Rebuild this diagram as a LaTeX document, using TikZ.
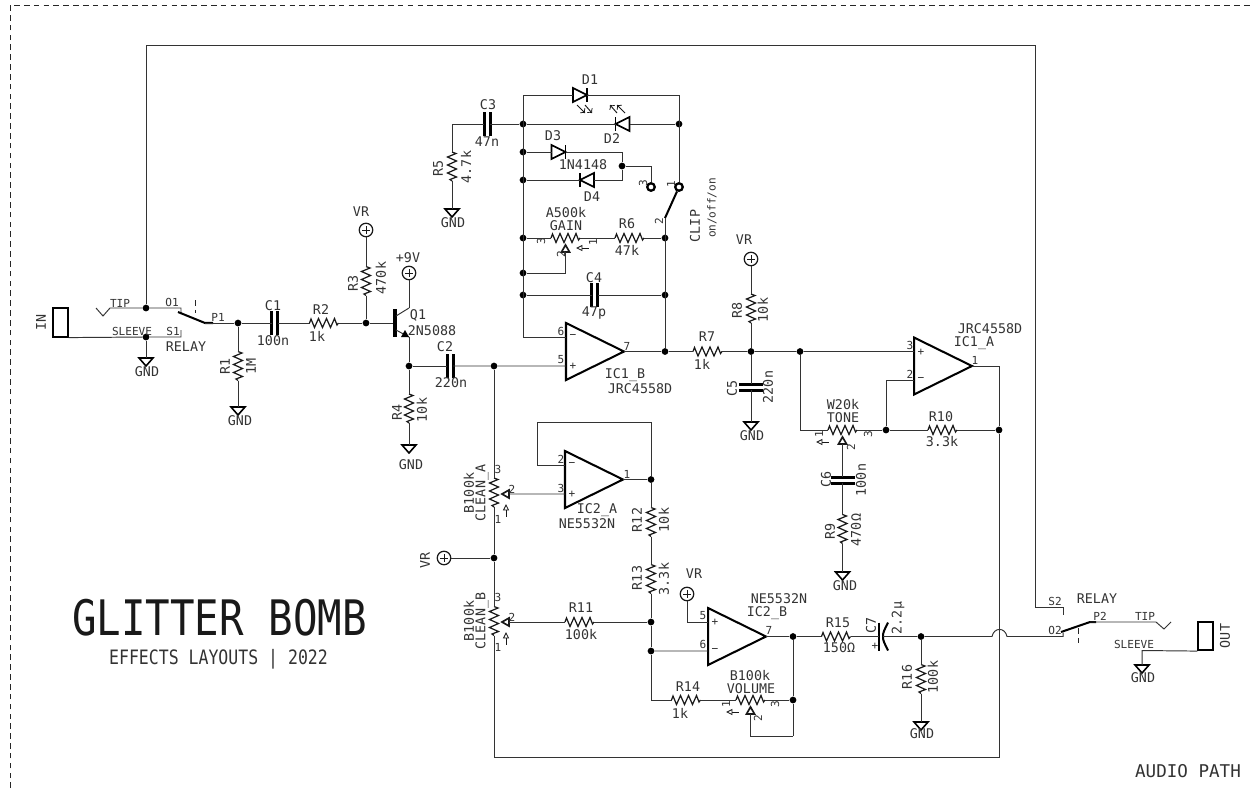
\documentclass[tikz,border=0pt]{standalone}
\usepackage{fontspec}
\setmainfont{DejaVu Sans Mono}
\usepackage{tikz}
\tikzset{
	wire/.style={line width=0.55pt, draw=black!80},
	part/.style={line width=0.7pt, draw=black!90, line join=miter},
	heavy/.style={line width=1.15pt, draw=black},
	plate/.style={line width=1.7pt, draw=black},
	dash1/.style={line width=0.5pt, draw=black!85, dash pattern=on 3.2pt off 2.4pt},
	dot/.style={circle, fill=black, inner sep=0pt, minimum size=0.135cm},
	vcc/.style={circle, draw=black!90, line width=0.7pt, inner sep=0pt, minimum size=0.27cm,
		path picture={\draw[line width=0.5pt] (path picture bounding box.center) ++(-4,0) -- ++(8,0) ++(-4,-4) -- ++(0,8);}},
	term/.style={circle, draw=black, line width=1.3pt, inner sep=0pt, minimum size=0.15cm},
	jack/.style={rectangle, draw=black, line width=0.95pt, inner sep=0pt, minimum width=0.29cm, minimum height=0.57cm},
	lab/.style={inner sep=0pt, text=black!80, font=\fontsize{7.6}{8}\selectfont},
	pin/.style={inner sep=0pt, text=black!80, font=\fontsize{6.3}{7}\selectfont},
	resh/.pic={
		\coordinate (-a) at (-14.5,0);
		\coordinate (-b) at (14.5,0);
		\draw[part] (-a) -- (-13,-4) -- (-9.5,4.5) -- (-5.5,-4.5) -- (-1.5,4.5) -- (2.5,-4.5) -- (6.5,4.5) -- (10.5,-4.5) -- (13,2) -- (-b);
	},
	cap/.pic={
		\coordinate (-a) at (-3,0);
		\coordinate (-b) at (3,0);
		\draw[plate] (-3,-12) -- (-3,12);
		\draw[plate] (3,-12) -- (3,12);
	},
	pcap/.pic={
		\coordinate (-a) at (-2,0);
		\coordinate (-b) at (2,0);
		\draw[heavy] (-2,-14) -- (-2,14);
		\draw[heavy] (7,-14) .. controls (3.5,-7) and (1.5,-3) .. (2,0) .. controls (1.5,3) and (3.5,7) .. (7,14);
	},
	diode/.pic={
		\coordinate (-a) at (-7,0);
		\coordinate (-b) at (7,0);
		\draw[heavy, line width=0.95pt] (-7,-7) -- (-7,7) -- (7,0) -- cycle;
		\draw[heavy, line width=0.95pt] (7,-7) -- (7,7);
	},
	rays/.pic={
		\draw[part, line width=0.55pt, ->] (-7,-4) -- (1,4);
		\draw[part, line width=0.55pt, ->] (1,-4) -- (8,4);
	},
	gnd/.pic={
		\coordinate (-a) at (0,0);
		\draw[heavy, line width=0.9pt] (-7,0) -- (7,0) -- (0,8) -- cycle;
	},
	wiper/.pic={
		\coordinate (-t) at (0,7);
		\draw[part, line width=0.95pt] (0,0) -- (4,7) -- (-4,7) -- cycle;
	},
	dirn/.pic={
		\draw[part, line width=0.5pt] (0,-6) -- (2.5,-1) -- (-2.5,-1) -- cycle;
		\draw[part, line width=0.5pt] (0,-1) -- (0,6);
	},
	npn/.pic={
		\coordinate (-b) at (0,0);
		\coordinate (-c) at (16,-15);
		\coordinate (-e) at (16,14);
		\draw[plate, line width=2.2pt] (2,-14) -- (2,14);
		\draw[wire] (3,-7) -- (-c);
		\draw[wire] (3,7) -- (-e);
		\fill[black] (16,14) -- (8,14) -- (12,7) -- cycle;
	},
	opamp/.pic={
		\coordinate (-up) at (0,-14.5);
		\coordinate (-dn) at (0,14.5);
		\coordinate (-o) at (58,0);
		\draw[heavy] (0,-28.5) -- (0,28.5) -- (-o) -- cycle;
	}
}
\begin{document}
\begin{tikzpicture}[x=0.02cm, y=-0.02cm]
		\useasboundingbox (0,0) rectangle (1253,788);
		\coordinate (tl) at (10,5);
		\coordinate (tr) at (1253,5);
		\coordinate (bl) at (10,788);
		\draw[dash1] (bl) -- (tl) -- (tr);

		\node at (60.5,322.5) [jack] (jackin) {};
		\coordinate (tip1a) at (96,308);
		\coordinate (tip1b) at (110,308);
		\coordinate (o1) at (181,308);
		\coordinate (s1) at (181,337);
		\coordinate (arm1) at (178,312);
		\coordinate (p1) at (205,323);
		\coordinate (d1a) at (195,300);
		\coordinate (d1b) at (195,313);
		\coordinate (topr) at (1035,45);
		\coordinate (s2) at (1063,607);
		\node at (146,308) [dot] (jtip) {};
		\node at (146,337) [dot] (jslv) {};
		\node at (238,323) [dot] (jp1) {};
		\node at (366,323) [dot] (jb) {};
		\node at (409,366) [dot] (je) {};
		\node at (494,366) [dot] (jin) {};
		\pic (g1) at (146,358) {gnd};
		\pic (C1) at (274.5,323) {cap};
		\pic (R2) at (324,323) {resh};
		\pic[rotate=-90] (R1) at (238,366) {resh};
		\pic (g2) at (238,407) {gnd};
		\node at (366,230) [vcc] (vr1) {};
		\pic[rotate=-90] (R3) at (366,281) {resh};
		\pic (Q1) at (393,323) {npn};
		\node at (409,273) [vcc] (vr2) {};
		\pic[rotate=-90] (R4) at (409,408.5) {resh};
		\pic (g3) at (409,445) {gnd};
		\pic (C2) at (450,366) {cap};
		\draw[wire] (jackin.south east) -- (jslv) -- (s1) -- ++(0,-7);
		\draw[wire] (tip1a) -- ++(7,8) -- (tip1b) -- (jtip) -- (o1) -- ++(0,6);
		\draw[wire] (jslv) -- (g1-a);
		\draw[wire] (jtip) |- (topr) |- (s2) -- ++(0,8);
		\draw[heavy] (arm1) -- (p1) -- ++(8,0);
		\draw[dash1] (d1a) -- (d1b);
		\draw[wire] (p1) -- (jp1) -- (C1-a);
		\draw[wire] (C1-b) -- (R2-a);
		\draw[wire] (R2-b) -- (jb) -- (Q1-b);
		\draw[wire] (jp1) -- (R1-a);
		\draw[wire] (R1-b) -- (g2-a);
		\draw[wire] (vr1) -- (R3-a);
		\draw[wire] (R3-b) -- (jb);
		\draw[wire] (vr2) -- (Q1-c);
		\draw[wire] (Q1-e) -- (je) -- (R4-a);
		\draw[wire] (R4-b) -- (g3-a);
		\draw[wire] (je) -- (C2-a);

		\pic (U1) at (566,351.5) {opamp};
		\coordinate (cd1) at (523,95);
		\node at (523,124) [dot] (jd2l) {};
		\node at (679,124) [dot] (jd2r) {};
		\node at (523,152) [dot] (jd3) {};
		\node at (523,180) [dot] (jd4) {};
		\node at (622,166) [dot] (jd34) {};
		\node at (523,238) [dot] (jgl) {};
		\node at (665,238) [dot] (jgr) {};
		\node at (523,273) [dot] (jgw) {};
		\node at (523,295) [dot] (jc4l) {};
		\node at (665,295) [dot] (jc4r) {};
		\node at (665,351.5) [dot] (jo1) {};
		\pic (D1) at (580,95) {diode};
		\pic (raysa) at (584,109) {rays};
		\pic[rotate=180] (D2) at (622.5,124) {diode};
		\pic[rotate=180] (raysb) at (618,109) {rays};
		\pic (C3) at (487,124) {cap};
		\coordinate (c5) at (452,124);
		\pic[rotate=-90] (R5) at (452,166.5) {resh};
		\pic (g4) at (452,209) {gnd};
		\pic (D3) at (558.5,152) {diode};
		\pic[rotate=180] (D4) at (587,180) {diode};
		\coordinate (c3) at (622,152);
		\coordinate (c4) at (622,180);
		\node at (651,187) [term] (sw3) {};
		\node at (679,187) [term] (sw1) {};
		\coordinate (sw2) at (665,218);
		\pic (Pg) at (565.5,238) {resh};
		\pic (Wg) at (565.5,245) {wiper};
		\pic (Ag) at (583,248) [rotate=90] {dirn};
		\pic (R6) at (629.5,238) {resh};
		\pic (C4) at (594.5,295) {cap};
		\pic (R7) at (707.5,351.5) {resh};
		\draw[wire] (C2-b) -- (jin) -- (U1-dn);
		\draw[wire] (U1-up) -| (cd1);
		\draw[wire] (cd1) -- (D1-a);
		\draw[wire] (D1-b) -| (sw1);
		\draw[wire] (jd2l) -- (D2-b);
		\draw[wire] (D2-a) -- (jd2r);
		\draw[wire] (jd2l) -- (C3-b);
		\draw[wire] (C3-a) -- (c5) -- (R5-a);
		\draw[wire] (R5-b) -- (g4-a);
		\draw[wire] (jd3) -- (D3-a);
		\draw[wire] (D3-b) -- (c3) -- (jd34) -- (c4) -- (D4-a);
		\draw[wire] (D4-b) -- (jd4);
		\draw[wire] (jd34) -| (sw3);
		\draw[heavy] (sw1) -- (sw2);
		\draw[wire] (sw2) -- (jo1);
		\draw[wire] (jgl) -- (Pg-a);
		\draw[wire] (Pg-b) -- (R6-a);
		\draw[wire] (R6-b) -- (jgr);
		\draw[wire] (Wg-t) |- (jgw);
		\draw[wire] (jc4l) -- (C4-a);
		\draw[wire] (C4-b) -- (jc4r);
		\draw[wire] (U1-o) -- (jo1) -- (R7-a);

		\pic (U2) at (914,366) {opamp};
		\node at (751,351.5) [dot] (jr7) {};
		\node at (800,351.5) [dot] (jton) {};
		\node at (886,430) [dot] (jt3) {};
		\node at (999,430) [dot] (jr10) {};
		\coordinate (crb) at (999,757);
		\node at (751,259) [vcc] (vr3) {};
		\pic[rotate=-90] (R8) at (751,308.5) {resh};
		\pic[rotate=-90] (C5) at (751,387) {cap};
		\pic (g5) at (751,422) {gnd};
		\pic (Pt) at (842.5,430) {resh};
		\pic (Wt) at (842.5,437) {wiper};
		\pic (At) at (823,442) [rotate=90] {dirn};
		\pic (R10) at (942.5,430) {resh};
		\pic[rotate=-90] (C6) at (842.5,480) {cap};
		\pic[rotate=-90] (R9) at (842.5,529) {resh};
		\pic (g6) at (842.5,572) {gnd};
		\draw[wire] (R7-b) -- (jr7) -- (jton) -- (U2-up);
		\draw[wire] (vr3) -- (R8-a);
		\draw[wire] (R8-b) -- (jr7);
		\draw[wire] (jr7) -- (C5-a);
		\draw[wire] (C5-b) -- (g5-a);
		\draw[wire] (U2-dn) -| (jt3);
		\draw[wire] (jton) |- (Pt-a);
		\draw[wire] (Pt-b) -- (jt3) -- (R10-a);
		\draw[wire] (R10-b) -- (jr10);
		\draw[wire] (Wt-t) -- (C6-a);
		\draw[wire] (C6-b) -- (R9-a);
		\draw[wire] (R9-b) -- (g6-a);

		\pic (U3) at (565,479.5) {opamp};
		\pic (U4) at (708,636.5) {opamp};
		\pic[rotate=-90] (Pa) at (494,492.5) {resh};
		\pic[rotate=-90] (Pb) at (494,621) {resh};
		\pic[rotate=90] (Wa) at (502,494) {wiper};
		\pic[rotate=90] (Wb) at (502,622) {wiper};
		\pic (Aa) at (506,511) {dirn};
		\pic (Ab) at (506,639) {dirn};
		\node at (444,558) [vcc] (vr4) {};
		\node at (494,558) [dot] (jvr) {};
		\node at (651,479.5) [dot] (jo2) {};
		\node at (651,622) [dot] (jr11) {};
		\node at (651,651) [dot] (jfb) {};
		\coordinate (cfb) at (537,422);
		\pic[rotate=-90] (R12) at (651,522) {resh};
		\pic[rotate=-90] (R13) at (651,579) {resh};
		\pic (R11) at (579.5,622) {resh};
		\node at (687,594) [vcc] (vr5) {};
		\pic (R14) at (686,700) {resh};
		\pic (Pv) at (750.5,700) {resh};
		\pic (Wv) at (750.5,707) {wiper};
		\pic (Av) at (733,712) [rotate=90] {dirn};
		\node at (793,636.5) [dot] (jo3) {};
		\node at (793,700) [dot] (jvol) {};
		\coordinate (cv) at (793,736);
		\pic (R15) at (836,636.5) {resh};
		\pic (C7) at (881,636.5) {pcap};
		\node at (921,636.5) [dot] (jc7) {};
		\pic[rotate=-90] (R16) at (921,679) {resh};
		\pic (g7) at (921,722) {gnd};
		\coordinate (hop1) at (992,636.5);
		\coordinate (hop2) at (1007,636.5);
		\coordinate (o2) at (1063,636.5);
		\coordinate (arm2) at (1061,632);
		\coordinate (p2) at (1090,622);
		\coordinate (d2a) at (1078,628);
		\coordinate (d2b) at (1078,644);
		\coordinate (tip2a) at (1156,622);
		\coordinate (tip2b) at (1171,622);
		\node at (1205.5,636) [jack] (jackout) {};
		\coordinate (c9) at (1142,650.5);
		\pic (g8) at (1142,665) {gnd};
		\draw[wire] (jin) -- (Pa-a);
		\draw[wire] (Pa-b) -- (jvr) -- (Pb-a);
		\draw[wire] (vr4) -- (jvr);
		\draw[wire] (U2-o) -| (jr10) -- (crb) -| (Pb-b);
		\draw[wire] (Wa-t) -- (U3-dn);
		\draw[wire] (U3-o) -- (jo2);
		\draw[wire] (U3-up) -| (cfb) -| (jo2);
		\draw[wire] (jo2) -- (R12-a);
		\draw[wire] (R12-b) -- (R13-a);
		\draw[wire] (R13-b) -- (jr11) -- (jfb) |- (R14-a);
		\draw[wire] (Wb-t) -- (R11-a);
		\draw[wire] (R11-b) -- (jr11);
		\draw[wire] (vr5) |- (U4-up);
		\draw[wire] (jfb) -- (U4-dn);
		\draw[wire] (U4-o) -- (jo3) -- (R15-a);
		\draw[wire] (R15-b) -- (C7-a);
		\draw[wire] (C7-b) -- (jc7) -- (hop1) .. controls (994,627) and (1005,627) .. (hop2) -- (o2) -- ++(0,-4);
		\draw[wire] (jc7) -- (R16-a);
		\draw[wire] (R16-b) -- (g7-a);
		\draw[wire] (jo3) -- (jvol);
		\draw[wire] (R14-b) -- (Pv-a);
		\draw[wire] (Pv-b) -- (jvol);
		\draw[wire] (Wv-t) |- (cv);
		\draw[wire] (cv) -- (jvol);
		\draw[heavy] (arm2) -- (p2) -- ++(6,0);
		\draw[dash1] (d2a) -- (d2b);
		\draw[wire] (p2) -- (tip2a) -- ++(8,7) -- (tip2b);
		\draw[wire] (jackout.south west) -- (c9) -- (g8-a);

		\node at (41,322) [lab, rotate=90] (tin) {IN};
		\node at (120,303) [pin] (ttip1) {TIP};
		\node at (132,331) [pin] (tslv1) {SLEEVE};
		\node at (172,302) [pin] (to1) {O1};
		\node at (173,331) [pin] (ts1) {S1};
		\node at (186,347) [lab] (trelay1) {RELAY};
		\node at (218,317) [pin] (tp1) {P1};
		\node at (147,372) [lab] (tg1) {GND};
		\node at (225,366) [lab, rotate=90] (nR1) {R1};
		\node at (251,366) [lab, rotate=90] (vR1) {1M};
		\node at (240,421) [lab] (tg2) {GND};
		\node at (273,306) [lab] (nC1) {C1};
		\node at (273,341) [lab] (vC1) {100n};
		\node at (321,310) [lab] (nR2) {R2};
		\node at (317,336) [lab] (vR2) {1k};
		\node at (361,212) [lab] (tvr1) {VR};
		\node at (353,283) [lab, rotate=90] (nR3) {R3};
		\node at (381,278) [lab, rotate=90] (vR3) {470k};
		\node at (408,258) [lab] (t9v) {+9V};
		\node at (418,315) [lab] (nQ1) {Q1};
		\node at (432,331) [lab] (vQ1) {2N5088};
		\node at (397,412) [lab, rotate=90] (nR4) {R4};
		\node at (422,410) [lab, rotate=90] (vR4) {10k};
		\node at (411,465) [lab] (tg3) {GND};
		\node at (445,347) [lab] (nC2) {C2};
		\node at (451,383) [lab] (vC2) {220n};

		\node at (488,105) [lab] (nC3) {C3};
		\node at (487,142) [lab] (vC3) {47n};
		\node at (438,168) [lab, rotate=90] (nR5) {R5};
		\node at (466,167) [lab, rotate=90] (vR5) {4.7k};
		\node at (453,223) [lab] (tg4) {GND};
		\node at (590,80) [lab] (nD1) {D1};
		\node at (612,139) [lab] (nD2) {D2};
		\node at (553,136) [lab] (nD3) {D3};
		\node at (583,165) [lab] (vD3) {1N4148};
		\node at (592,197) [lab] (nD4) {D4};
		\node at (643,183) [pin, rotate=90] (ps3) {3};
		\node at (671,184) [pin, rotate=90] (ps1) {1};
		\node at (659,221) [pin, rotate=90] (ps2) {2};
		\node at (695,226) [lab, rotate=90] (tclip) {CLIP};
		\node at (712,208) [pin, rotate=90] (tonoff) {on/off/on};
		\node at (566,213) [lab] (vPg) {A500k};
		\node at (566,226) [lab] (nPg) {GAIN};
		\node at (541,241) [pin, rotate=90] (pg3) {3};
		\node at (561,254) [pin, rotate=90] (pg2) {2};
		\node at (593,242) [pin, rotate=90] (pg1) {1};
		\node at (627,224) [lab] (nR6) {R6};
		\node at (627,250) [lab] (vR6) {47k};
		\node at (594,278) [lab] (nC4) {C4};
		\node at (594,313) [lab] (vC4) {47p};
		\node at (561,331) [pin] (pu6) {6};
		\node at (561,360) [pin] (pu5) {5};
		\node at (627,346) [pin] (pu7) {7};
		\node at (573,337) [pin] (su1m) {−};
		\node at (573,366) [pin] (su1p) {+};
		\node at (625,375) [lab] (nU1) {IC1\_B};
		\node at (640,389) [lab] (vU1) {JRC4558D};
		\node at (707,337) [lab] (nR7) {R7};
		\node at (702,364) [lab] (vR7) {1k};

		\node at (744,240) [lab] (tvr3) {VR};
		\node at (737,310) [lab, rotate=90] (nR8) {R8};
		\node at (763,310) [lab, rotate=90] (vR8) {10k};
		\node at (732,388) [lab, rotate=90] (nC5) {C5};
		\node at (768,387) [lab, rotate=90] (vC5) {220n};
		\node at (752,436) [lab] (tg5) {GND};
		\node at (843,405) [lab] (vPt) {W20k};
		\node at (843,418) [lab] (nPt) {TONE};
		\node at (819,434) [pin, rotate=90] (pt1) {1};
		\node at (868,434) [pin, rotate=90] (pt3) {3};
		\node at (851,447) [pin, rotate=90] (pt2) {2};
		\node at (941,417) [lab] (nR10) {R10};
		\node at (942,442) [lab] (vR10) {3.3k};
		\node at (826,479) [lab, rotate=90] (nC6) {C6};
		\node at (861,480) [lab, rotate=90] (vC6) {100n};
		\node at (830,531) [lab, rotate=90] (nR9) {R9};
		\node at (856,530) [lab, rotate=90] (vR9) {470Ω};
		\node at (845,586) [lab] (tg6) {GND};
		\node at (990,329) [lab] (vU2) {JRC4558D};
		\node at (974,343) [lab] (nU2) {IC1\_A};
		\node at (975,360) [pin] (pa1) {1};
		\node at (910,345) [pin] (pa3) {3};
		\node at (910,374) [pin] (pa2) {2};
		\node at (921,352) [pin] (su2p) {+};
		\node at (921,380) [pin] (su2m) {−};

		\node at (469,493) [lab, rotate=90] (vPa) {B100k};
		\node at (482,493) [lab, rotate=90] (nPa) {CLEAN\_A};
		\node at (498,469) [pin] (pa3c) {3};
		\node at (512,489) [pin] (pa2c) {2};
		\node at (498,519) [pin] (pa1c) {1};
		\node at (469,621) [lab, rotate=90] (vPb) {B100k};
		\node at (482,621) [lab, rotate=90] (nPb) {CLEAN\_B};
		\node at (498,597) [pin] (pb3) {3};
		\node at (512,617) [pin] (pb2) {2};
		\node at (498,647) [pin] (pb1) {1};
		\node at (425,560) [lab, rotate=90] (tvr4) {VR};
		\node at (561,459) [pin] (pc2) {2};
		\node at (561,488) [pin] (pc3) {3};
		\node at (627,474) [pin] (pc1) {1};
		\node at (572,465) [pin] (su3m) {−};
		\node at (572,494) [pin] (su3p) {+};
		\node at (597,510) [lab] (nU3) {IC2\_A};
		\node at (587,524) [lab] (vU3) {NE5532N};
		\node at (637,520) [lab, rotate=90] (nR12) {R12};
		\node at (664,520) [lab, rotate=90] (vR12) {10k};
		\node at (637,578) [lab, rotate=90] (nR13) {R13};
		\node at (664,579) [lab, rotate=90] (vR13) {3.3k};
		\node at (581,608) [lab] (nR11) {R11};
		\node at (581,635) [lab] (vR11) {100k};

		\node at (694,574) [lab] (tvr5) {VR};
		\node at (703,616) [pin] (pd5) {5};
		\node at (703,644) [pin] (pd6) {6};
		\node at (769,630) [pin] (pd7) {7};
		\node at (715,622) [pin] (su4p) {+};
		\node at (715,651) [pin] (su4m) {−};
		\node at (779,599) [lab] (vU4) {NE5532N};
		\node at (767,613) [lab] (nU4) {IC2\_B};
		\node at (688,687) [lab] (nR14) {R14};
		\node at (680,713) [lab] (vR14) {1k};
		\node at (750,676) [lab] (vPv) {B100k};
		\node at (751,689) [lab] (nPv) {VOLUME};
		\node at (726,704) [pin, rotate=90] (pv1) {1};
		\node at (775,704) [pin, rotate=90] (pv3) {3};
		\node at (758,718) [pin, rotate=90] (pv2) {2};
		\node at (838,623) [lab] (nR15) {R15};
		\node at (839,648) [lab] (vR15) {150Ω};
		\node at (871,625) [lab, rotate=90] (nC7) {C7};
		\node at (898,618) [lab, rotate=90] (vC7) {2.2µ};
		\node at (875,646) [pin] (pc7) {+};
		\node at (907,677) [lab, rotate=90] (nR16) {R16};
		\node at (933,677) [lab, rotate=90] (vR16) {100k};
		\node at (922,734) [lab] (tg7) {GND};

		\node at (1055,601) [pin] (ts2) {S2};
		\node at (1097,599) [lab] (trelay2) {RELAY};
		\node at (1055,630) [pin] (to2) {O2};
		\node at (1100,616) [pin] (tp2) {P2};
		\node at (1145,616) [pin] (ttip2) {TIP};
		\node at (1134,644) [pin] (tslv2) {SLEEVE};
		\node at (1143,678) [lab] (tg8) {GND};
		\node at (1225,636) [lab, rotate=90] (tout) {OUT};

		\node at (219.5,617.5) [inner sep=0pt, text=black!90, font=\fontsize{23.2}{24}\selectfont] (ttitle) {\scalebox{1}[1.2]{GLITTER BOMB}};
		\node at (218.5,659.5) [inner sep=0pt, text=black!80, font=\fontsize{9.4}{11}\selectfont] (tsub) {\scalebox{1}[1.2]{EFFECTS LAYOUTS | 2022}};
		\node at (1188,771) [inner sep=0pt, text=black!80, font=\fontsize{10}{12}\selectfont] (tpath) {AUDIO PATH};
		\end{tikzpicture}
\end{document}
